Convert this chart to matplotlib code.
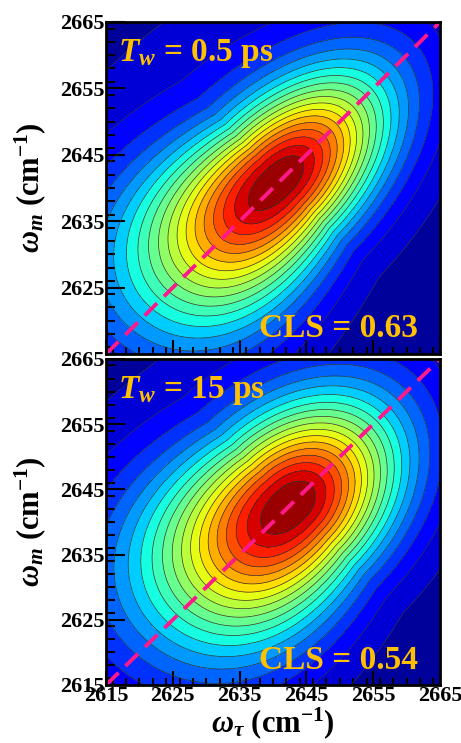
import numpy as np
import matplotlib.pyplot as plt
from matplotlib.ticker import MultipleLocator

plt.rcParams['font.family'] = ['Liberation Serif', 'DejaVu Serif']
plt.rcParams['font.weight'] = 'bold'
plt.rcParams['axes.labelweight'] = 'bold'
plt.rcParams['mathtext.fontset'] = 'custom'
plt.rcParams['mathtext.rm'] = 'Liberation Serif:bold'
plt.rcParams['mathtext.it'] = 'Liberation Serif:italic:bold'
plt.rcParams['mathtext.bf'] = 'Liberation Serif:bold'

# panel info
tw_labels = ['0.5 ps', '15 ps']
cls_values = [0.63, 0.54]
# peak positions (cm-1)
peak_x = [2641.2, 2643.0]
peak_y = [2641.2, 2642.6]
# widths of the peak along the diagonal (above / below) and across it
diag_up = [13.5, 12.5]
diag_down = [17.5, 16.5]
anti = [7.2, 8.6]
anti_grow = [0.2, 0.18]
peak_exp = [2.0, 2.0]
# faint wide wings
wing_amp = [0.13, 0.13]

w_min, w_max = 2615, 2665
ticks = [2615, 2625, 2635, 2645, 2655, 2665]


def spectrum(X, Y, i):
    d = ((X - peak_x[i]) + (Y - peak_y[i])) / 2.0
    a = ((Y - peak_y[i]) - (X - peak_x[i])) / 2.0
    sd = np.where(d > 0, diag_up[i], diag_down[i])
    sa = anti[i] + anti_grow[i] * np.clip(-d, 0, None)
    r = np.sqrt((d / sd) ** 2 + (a / sa) ** 2)
    core = np.exp(-r ** peak_exp[i])
    wing = np.exp(-(d + 4) ** 2 / (2 * 20.0 ** 2) - (a - 4.5) ** 2 / (2 * 12.0 ** 2))
    z = (1 - wing_amp[i]) * core + wing_amp[i] * wing
    return z / z.max()


w = np.linspace(w_min, w_max, 401)
X, Y = np.meshgrid(w, w)
levels = np.linspace(0, 1, 21)

fig = plt.figure(figsize=(4.61, 7.43), dpi=100)
boxes = [[0.230, 0.5236, 0.7245, 0.4468], [0.230, 0.0781, 0.7245, 0.4388]]

for i in range(2):
    ax = fig.add_axes(boxes[i])
    Z = spectrum(X, Y, i)
    ax.contourf(X, Y, Z, levels=levels, cmap='jet')
    ax.contour(X, Y, Z, levels=levels[1:-1], colors='#333333', linewidths=0.5)
    ax.plot([w_min, w_max], [w_min, w_max], color='#ff1a8c', lw=2.8,
            dashes=(4.5, 2.5))
    ax.set_xlim(w_min, w_max)
    ax.set_ylim(w_min, w_max)
    ax.set_xticks(ticks)
    ax.set_yticks(ticks)
    ax.xaxis.set_minor_locator(MultipleLocator(2))
    ax.yaxis.set_minor_locator(MultipleLocator(2))
    ax.tick_params(which='both', direction='in', top=False, right=False,
                   width=1.5, labelsize=16, pad=1)
    ax.tick_params(axis='y', which='major', length=13.5)
    ax.tick_params(axis='y', which='minor', length=6.5)
    ax.tick_params(axis='x', which='major', length=10)
    ax.tick_params(axis='x', which='minor', length=5)
    for s in ax.spines.values():
        s.set_linewidth(2)
    ax.set_ylabel(r'$\omega_m$ (cm$^{-1}$)', fontsize=22, labelpad=9)
    ax.text(0.036, 0.955, r'$T_w$ = ' + tw_labels[i], transform=ax.transAxes,
            color='#ffc000', fontsize=24, ha='left', va='top')
    ax.text(0.935, 0.05, 'CLS = %.2f' % cls_values[i], transform=ax.transAxes,
            color='#ffc000', fontsize=24, ha='right', va='baseline')
    if i == 0:
        ax.set_xticklabels([])
        ax.set_yticklabels(['', '2625', '2635', '2645', '2655', '2665'])
    else:
        ax.set_xlabel(r'$\omega_\tau$ (cm$^{-1}$)', fontsize=22, labelpad=-1)

fig.savefig('out.png', dpi=100)
